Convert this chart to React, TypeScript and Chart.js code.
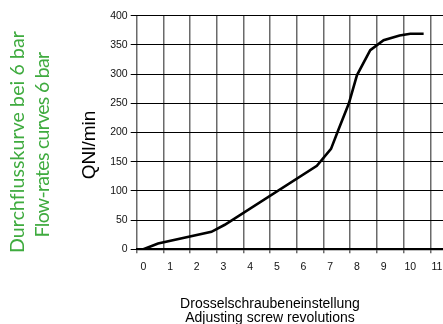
import React, { useEffect, useRef } from "react";
import { Chart, registerables } from "chart.js";

Chart.register(...registerables);

// Flow curve at 6 bar: adjusting screw revolutions vs. flow (Nl/min)
const REVOLUTIONS = [0, 0.55, 2.55, 3.05, 6.5, 7.03, 7.3, 7.7, 8.0, 8.5, 9.0, 9.6, 10.0, 10.5];
const FLOW = [0, 10, 30, 42, 143, 172, 204, 250, 298, 341, 358, 366, 369, 369];

const X_TICKS = [0, 1, 2, 3, 4, 5, 6, 7, 8, 9, 10, 11];
const X_GRID_LINES = [-0.25, 0.75, 1.75, 2.75, 3.75, 4.75, 5.75, 6.75, 7.75, 8.75, 9.75, 10.75, 11.75];
const Y_TICKS = [0, 50, 100, 150, 200, 250, 300, 350, 400];

const TITLE_DE = "Durchflusskurve bei 6 bar";
const TITLE_EN = "Flow-rates curves 6 bar";
const Y_TITLE = "QNl/min";
const X_TITLE_DE = "Drosselschraubeneinstellung";
const X_TITLE_EN = "Adjusting screw revolutions";

const GREEN = "#3fab3f";
const FONT = "'Liberation Sans', Arial, Helvetica, sans-serif";
const GREEN_FONT = "Lato, 'Liberation Sans', sans-serif";

function ChartCanvas() {
  const ref = useRef<HTMLCanvasElement | null>(null);
  useEffect(() => {
    if (!ref.current) return;
    const tickFont = { family: FONT, size: 10.5 };
    const chart = new Chart(ref.current, {
      type: "line",
      data: {
        datasets: [
          {
            data: REVOLUTIONS.map((x, i) => ({ x, y: FLOW[i] })),
            borderColor: "#000",
            borderWidth: 2.6,
            pointRadius: 0,
            tension: 0,
            fill: false,
            xAxisID: "x",
            yAxisID: "y",
          },
        ],
      },
      options: {
        responsive: false,
        animation: false,
        events: [],
        layout: { padding: { left: 100, top: 15.7, right: 0, bottom: 0 } },
        plugins: { legend: { display: false }, tooltip: { enabled: false }, title: { display: false } },
        scales: {
          gx: {
            type: "linear",
            position: "bottom",
            weight: 0,
            min: -0.25,
            max: 11.75,
            afterBuildTicks: (s: any) => {
              s.ticks = X_GRID_LINES.map((v) => ({ value: v }));
            },
            ticks: { display: false },
            grid: { color: "#6a6a6a", lineWidth: 1.5, drawTicks: true, tickLength: 4 },
            border: { display: true, color: "#000", width: 2.2 },
            afterFit: (s: any) => {
              s.height = 4;
            },
          },
          x: {
            type: "linear",
            position: "bottom",
            weight: 1,
            min: -0.25,
            max: 11.75,
            afterBuildTicks: (s: any) => {
              s.ticks = X_TICKS.map((v) => ({ value: v }));
            },
            ticks: { font: tickFont, color: "#111", padding: 8, maxRotation: 0, autoSkip: false },
            grid: { display: false, drawTicks: false },
            border: { display: false },
            afterFit: (s: any) => {
              s.height = 70.7;
            },
          },
          y: {
            type: "linear",
            position: "left",
            min: 0,
            max: 400,
            afterBuildTicks: (s: any) => {
              s.ticks = Y_TICKS.map((v) => ({ value: v }));
            },
            ticks: { font: tickFont, color: "#111", padding: 3 },
            grid: { color: "#000", lineWidth: 1, drawTicks: true, tickLength: 6 },
            border: { display: false },
            afterFit: (s: any) => {
              s.width = 36.7;
            },
          },
        },
      },
    } as any);
    return () => chart.destroy();
  }, []);
  return <canvas ref={ref} width={457} height={324} style={{ display: "block" }} />;
}

function Rotated(props: {
  text: string;
  cx: number;
  cy: number;
  size: number;
  color: string;
  family: string;
  spacing?: number;
}) {
  return (
    <div
      style={{
        position: "absolute",
        left: props.cx,
        top: props.cy,
        transform: "translate(-50%, -50%) rotate(-90deg)",
        whiteSpace: "nowrap",
        fontFamily: props.family,
        fontSize: props.size,
        lineHeight: props.size + "px",
        letterSpacing: (props.spacing || 0) + "px",
        color: props.color,
      }}
    >
      {props.text}
    </div>
  );
}

export default function App() {
  return (
    <div
      style={{
        position: "absolute",
        left: 0,
        top: 0,
        width: 443,
        height: 324,
        overflow: "hidden",
        background: "#fff",
      }}
    >
      <div style={{ position: "absolute", left: 0, top: 0 }}>
        <ChartCanvas />
      </div>
      <Rotated text={TITLE_DE} cx={16.5} cy={142} size={19.5} color={GREEN} family={GREEN_FONT} spacing={0.1} />
      <Rotated text={TITLE_EN} cx={41.5} cy={144.5} size={19.5} color={GREEN} family={GREEN_FONT} spacing={-0.7} />
      <Rotated text={Y_TITLE} cx={88} cy={144.5} size={19} color="#000" family={FONT} />
      <div
        style={{
          position: "absolute",
          left: 170,
          width: 200,
          top: 296,
          textAlign: "center",
          fontFamily: FONT,
          fontSize: 14,
          lineHeight: "14px",
          color: "#000",
          whiteSpace: "nowrap",
        }}
      >
        <div>{X_TITLE_DE}</div>
        <div>{X_TITLE_EN}</div>
      </div>
    </div>
  );
}
